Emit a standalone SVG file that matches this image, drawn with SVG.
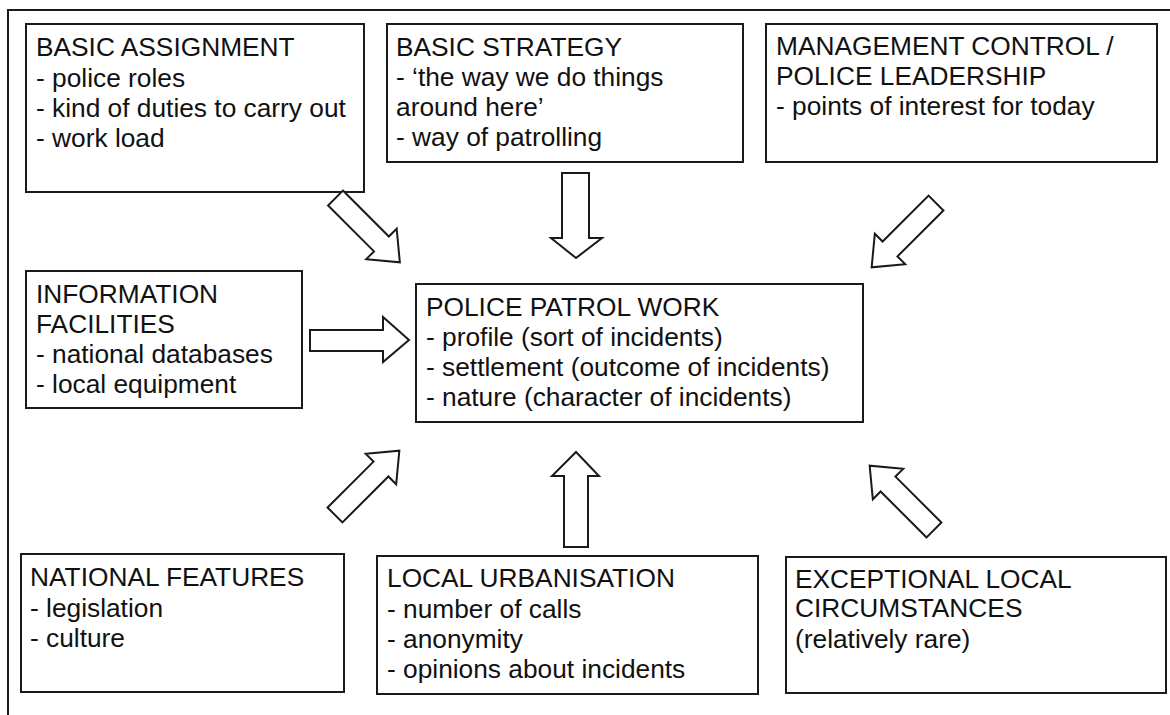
<svg xmlns="http://www.w3.org/2000/svg" width="1170" height="715" viewBox="0 0 1170 715">
<style>
.box{fill:#fff;stroke:#1a1a1a;stroke-width:2}
.frame{fill:none;stroke:#1a1a1a;stroke-width:2}
.arr{fill:#fff;stroke:#1a1a1a;stroke-width:2;stroke-linejoin:miter}
text{font-family:"Liberation Sans",Arial,sans-serif;font-size:26.3px;fill:#111}
</style>
<defs>
<polygon id="a90" points="0,-10.5 65,-10.5 65,-21.5 91,0 65,21.5 65,10.5 0,10.5"/>
</defs>
<rect width="1170" height="715" fill="#fff"/>
<path class="frame" d="M8,715 V10 H1170"/>

<g id="basic-assignment">
<rect class="box" x="26" y="24" width="338" height="168"/>
<text x="36" y="56">BASIC ASSIGNMENT</text>
<text x="36" y="87">- police roles</text>
<text x="36" y="117">- kind of duties to carry out</text>
<text x="36" y="147">- work load</text>
</g>

<g id="basic-strategy">
<rect class="box" x="387" y="24" width="356" height="138"/>
<text x="396" y="56">BASIC STRATEGY</text>
<text x="396" y="86">- ‘the way we do things</text>
<text x="396" y="116">around here’</text>
<text x="396" y="146">- way of patrolling</text>
</g>

<g id="management-control">
<rect class="box" x="766" y="24" width="391" height="138"/>
<text x="776" y="55">MANAGEMENT CONTROL /</text>
<text x="776" y="85">POLICE LEADERSHIP</text>
<text x="776" y="115">- points of interest for today</text>
</g>

<g id="information-facilities">
<rect class="box" x="26" y="271" width="276" height="137"/>
<text x="36" y="303">INFORMATION</text>
<text x="36" y="333">FACILITIES</text>
<text x="36" y="363">- national databases</text>
<text x="36" y="393">- local equipment</text>
</g>

<g id="police-patrol-work">
<rect class="box" x="416" y="284" width="447" height="138"/>
<text x="426" y="316">POLICE PATROL WORK</text>
<text x="426" y="346">- profile (sort of incidents)</text>
<text x="426" y="376">- settlement (outcome of incidents)</text>
<text x="426" y="406">- nature (character of incidents)</text>
</g>

<g id="national-features">
<rect class="box" x="21" y="554" width="323" height="138"/>
<text x="30" y="586">NATIONAL FEATURES</text>
<text x="30" y="617">- legislation</text>
<text x="30" y="647">- culture</text>
</g>

<g id="local-urbanisation">
<rect class="box" x="377" y="556" width="381" height="138"/>
<text x="387" y="587">LOCAL URBANISATION</text>
<text x="387" y="618">- number of calls</text>
<text x="387" y="648">- anonymity</text>
<text x="387" y="678">- opinions about incidents</text>
</g>

<g id="exceptional-local-circumstances">
<rect class="box" x="786" y="557" width="380" height="136"/>
<text x="795" y="588">EXCEPTIONAL LOCAL</text>
<text x="795" y="617">CIRCUMSTANCES</text>
<text x="795" y="648">(relatively rare)</text>
</g>

<g id="connectors">
<!-- basic assignment -> patrol (down-right) -->
<use href="#a90" class="arr" transform="translate(335.5,198) rotate(45)"/>
<!-- basic strategy -> patrol (down) -->
<polygon class="arr" points="562,173 589,173 589,238 602,238 576,258 551,238 562,238"/>
<!-- management -> patrol (down-left) -->
<use href="#a90" class="arr" transform="translate(936,203) rotate(135)"/>
<!-- information -> patrol (right) -->
<polygon class="arr" points="310,330 383,330 383,317 409,340 383,362 383,351 310,351"/>
<!-- national -> patrol (up-right) -->
<use href="#a90" class="arr" transform="translate(335,515) rotate(-45)"/>
<!-- local urbanisation -> patrol (up) -->
<polygon class="arr" points="564,547 564,476 552,476 576,452 599,476 588,476 588,547"/>
<!-- exceptional -> patrol (up-left) -->
<use href="#a90" class="arr" transform="translate(934,530) rotate(-135)"/>
</g>
</svg>
